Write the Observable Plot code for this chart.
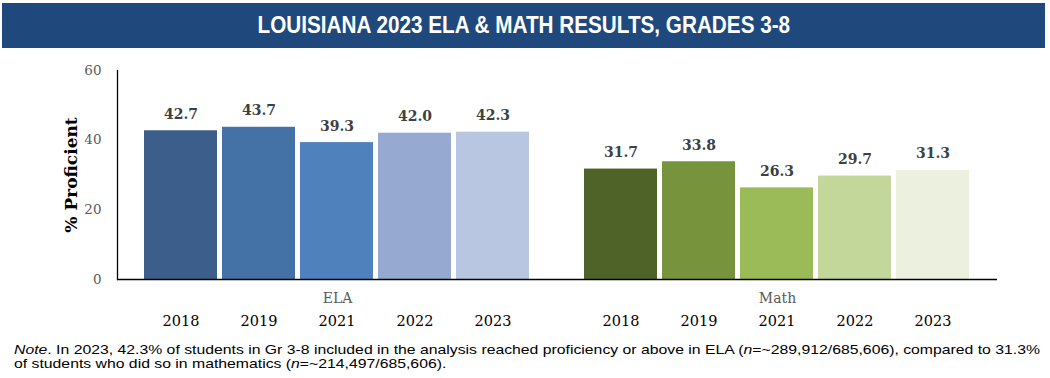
<!DOCTYPE html>
<html>
<head>
<meta charset="utf-8">
<script src="https://cdn.jsdelivr.net/npm/d3@7"></script>
<script src="https://cdn.jsdelivr.net/npm/@observablehq/plot@0.6"></script>
<style>
  html, body { margin: 0; padding: 0; background: #fff; }
  #title {
    margin: 3px 5px 0 2px; height: 45px; background: #1f497d; color: #fff;
    font-family: "Liberation Sans", Arial, sans-serif;
    font-weight: bold; font-size: 23px; display: flex; align-items: center; justify-content: center;
  }
  #title span { display: inline-block; transform: scaleX(0.9); }
  #chart svg { display: block; }
  #notewrap { height: 40px; margin: 2px 0 0 14px; }
  .noteline { height: 14px; white-space: nowrap; }
  .noteline span {
    display: inline-block;
    font-family: "Liberation Sans", Arial, sans-serif;
    font-size: 13.5px; line-height: 14px; color: #000; white-space: nowrap;
    transform-origin: left top;
  }
</style>
</head>
<body>
<div id="title"><span>LOUISIANA 2023 ELA &amp; MATH RESULTS, GRADES 3-8</span></div>
<div id="chart"></div>
<div id="notewrap">
  <div class="noteline"><span id="n1"><i>Note</i>. In 2023, 42.3% of students in Gr 3-8 included in the analysis reached proficiency or above in ELA (<i>n</i>=~289,912/685,606), compared to 31.3%</span></div>
  <div class="noteline"><span id="n2">of students who did so in mathematics (<i>n</i>=~214,497/685,606).</span></div>
</div>
<script>
const subjects = ["ELA", "Math"];
const years = ["2018", "2019", "2021", "2022", "2023"];
const elaValues = [42.7, 43.7, 39.3, 42.0, 42.3];
const mathValues = [31.7, 33.8, 26.3, 29.7, 31.3];
const elaColors = ["#3c5e8b", "#4471a6", "#4f81bd", "#95a9d1", "#b9c6e2"];
const mathColors = ["#4f6228", "#77933c", "#9bbb59", "#c4d79b", "#ebf1de"];
const yTicks = [0, 20, 40, 60];

const data = [];
years.forEach((y, i) => data.push({subject: "ELA", year: y, value: elaValues[i], color: elaColors[i]}));
years.forEach((y, i) => data.push({subject: "Math", year: y, value: mathValues[i], color: mathColors[i]}));

const serif = "'DejaVu Serif', 'Liberation Serif', serif";

const chart = Plot.plot({
  width: 1050,
  height: 290,
  marginLeft: 116,
  marginRight: 53,
  marginTop: 22,
  marginBottom: 59,
  style: {fontFamily: serif, background: "white"},
  fx: {domain: subjects, padding: 0, label: null},
  x: {domain: years, paddingInner: 0.064, paddingOuter: 0.352, label: null},
  y: {domain: [0, 60], ticks: yTicks, label: null},
  marks: [
    Plot.barY(data, {fx: "subject", x: "year", y: "value", fill: "color"}),
    Plot.text(data, {fx: "subject", x: "year", y: "value", text: d => d.value.toFixed(1),
      lineAnchor: "bottom", dy: -12, fontWeight: "bold", fontSize: 14, fill: "#404040", fontFamily: serif}),
    Plot.ruleY([0], {stroke: "#000", strokeWidth: 1.3}),
    Plot.frame({anchor: "left", facetAnchor: "left", stroke: "#000", strokeWidth: 1.3}),
    Plot.axisY({ticks: yTicks, tickSize: 0, tickPadding: 16, fontSize: 13.5, color: "#595959", label: null, fontFamily: serif}),
    Plot.axisX({tickSize: 0, tickPadding: 36, fontSize: 14.5, color: "#000", label: null, fontFamily: serif}),
    Plot.axisFx({anchor: "bottom", tickSize: 0, tickPadding: 14, fontSize: 14, color: "#595959", label: null, fontFamily: serif}),
    Plot.text(["% Proficient"], {facetAnchor: "left", frameAnchor: "left", textAnchor: "middle", rotate: -90, dx: -46,
      fontWeight: "bold", fontSize: 17, fill: "#000", fontFamily: serif})
  ]
});
document.getElementById("chart").appendChild(chart);

// fit the note's first line to the reference width
const n1 = document.getElementById("n1"), n2 = document.getElementById("n2");
const natural = n1.getBoundingClientRect().width;
const s = 1026 / natural;
n1.style.transform = `scaleX(${s})`;
n2.style.transform = `scaleX(${s})`;
</script>
</body>
</html>
